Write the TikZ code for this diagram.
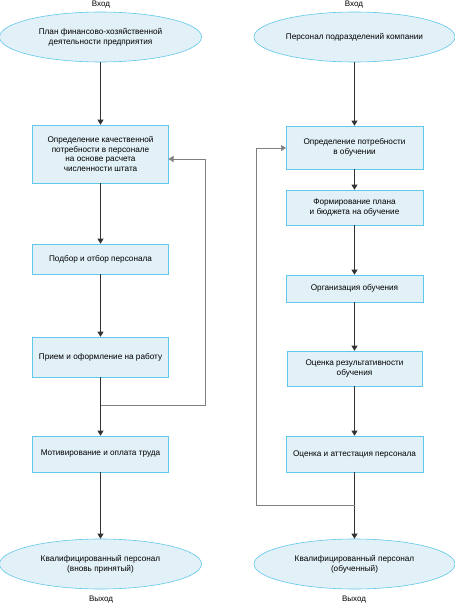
\documentclass[tikz,border=0pt]{standalone}
\usepackage{fontspec}
\setmainfont{Liberation Sans}
\usetikzlibrary{shapes.geometric,arrows.meta}
\definecolor{fillc}{RGB}{226,240,247}
\definecolor{edgec}{RGB}{95,200,235}
\definecolor{linec}{RGB}{50,50,50}
\tikzset{
  stepbox/.style={draw=edgec,fill=fillc,line width=0.6pt,align=center,font=\fontsize{8.2}{9.6}\selectfont,inner sep=0pt},
  termell/.style={ellipse,draw=edgec,fill=fillc,line width=0.6pt,align=center,font=\fontsize{8.2}{9.8}\selectfont,inner sep=0pt},
  lbl/.style={font=\fontsize{8}{9}\selectfont,inner sep=0pt},
  flow/.style={draw=linec,line width=0.6pt,-{Triangle[width=6pt,length=5pt]}},
  back/.style={draw=gray,line width=0.6pt,-{Triangle[width=6pt,length=5pt]}},
}
\begin{document}
\begin{tikzpicture}[x=1pt,y=-1pt]
\useasboundingbox (0,0) rectangle (455,605);
% left column
\node[lbl] (inL) at (101,5) {Вход};
\node[termell,minimum width=202pt,minimum height=50pt] (eL1) at (100.5,37) {План финансово-хозяйственной\\деятельности предприятия};
\node[stepbox,minimum width=136pt,minimum height=58pt] (L1) at (100.5,154) {Определение качественной\\потребности в персонале\\на основе расчета\\численности штата};
\node[stepbox,minimum width=136pt,minimum height=30pt] (L2) at (100.5,259) {Подбор и отбор персонала};
\node[stepbox,minimum width=136pt,minimum height=40pt] (L3) at (100.5,357) {Прием и оформление на работу};
\node[stepbox,minimum width=136pt,minimum height=36pt] (L4) at (100.5,454) {Мотивирование и оплата труда};
\node[termell,minimum width=202pt,minimum height=50pt] (eL2) at (100.5,564) {Квалифицированный персонал\\(вновь принятый)};
\node[lbl] (outL) at (101,600) {Выход};
\coordinate (jL) at (100.5,405);
\coordinate (rL1) at (205,405);
\coordinate (rL2) at (205,159);
\coordinate (aL) at (168.5,159);
\draw[flow] (eL1.south) -- (L1.north);
\draw[flow] (L1.south) -- (L2.north);
\draw[flow] (L2.south) -- (L3.north);
\draw[flow] (L3.south) -- (L4.north);
\draw[flow] (L4.south) -- (eL2.north);
\draw[back] (jL) -- (rL1) -- (rL2) -- (aL);
% right column
\node[lbl] (inR) at (354,5) {Вход};
\node[termell,minimum width=201pt,minimum height=50pt] (eR1) at (354.5,37) {Персонал подразделений компании};
\node[stepbox,minimum width=137pt,minimum height=43pt] (R1) at (354.5,147.5) {Определение потребности\\в обучении};
\node[stepbox,minimum width=137pt,minimum height=35pt] (R2) at (354.5,207.5) {Формирование плана\\и бюджета на обучение};
\node[stepbox,minimum width=137pt,minimum height=27pt] (R3) at (354.5,288.5) {Организация обучения};
\node[stepbox,minimum width=135pt,minimum height=35pt] (R4) at (354.5,368.5) {Оценка результативности\\обучения};
\node[stepbox,minimum width=137pt,minimum height=36pt] (R5) at (354.5,454) {Оценка и аттестация персонала};
\node[termell,minimum width=201pt,minimum height=50pt] (eR2) at (354.5,564) {Квалифицированный персонал\\(обученный)};
\node[lbl] (outR) at (354,600) {Выход};
\coordinate (jR) at (354.5,505);
\coordinate (rR1) at (256,505);
\coordinate (rR2) at (256,148);
\coordinate (aR) at (286,148);
\draw[flow] (eR1.south) -- (R1.north);
\draw[flow] (R1.south) -- (R2.north);
\draw[flow] (R2.south) -- (R3.north);
\draw[flow] (R3.south) -- (R4.north);
\draw[flow] (R4.south) -- (R5.north);
\draw[flow] (R5.south) -- (eR2.north);
\draw[back] (jR) -- (rR1) -- (rR2) -- (aR);
\end{tikzpicture}
\end{document}
